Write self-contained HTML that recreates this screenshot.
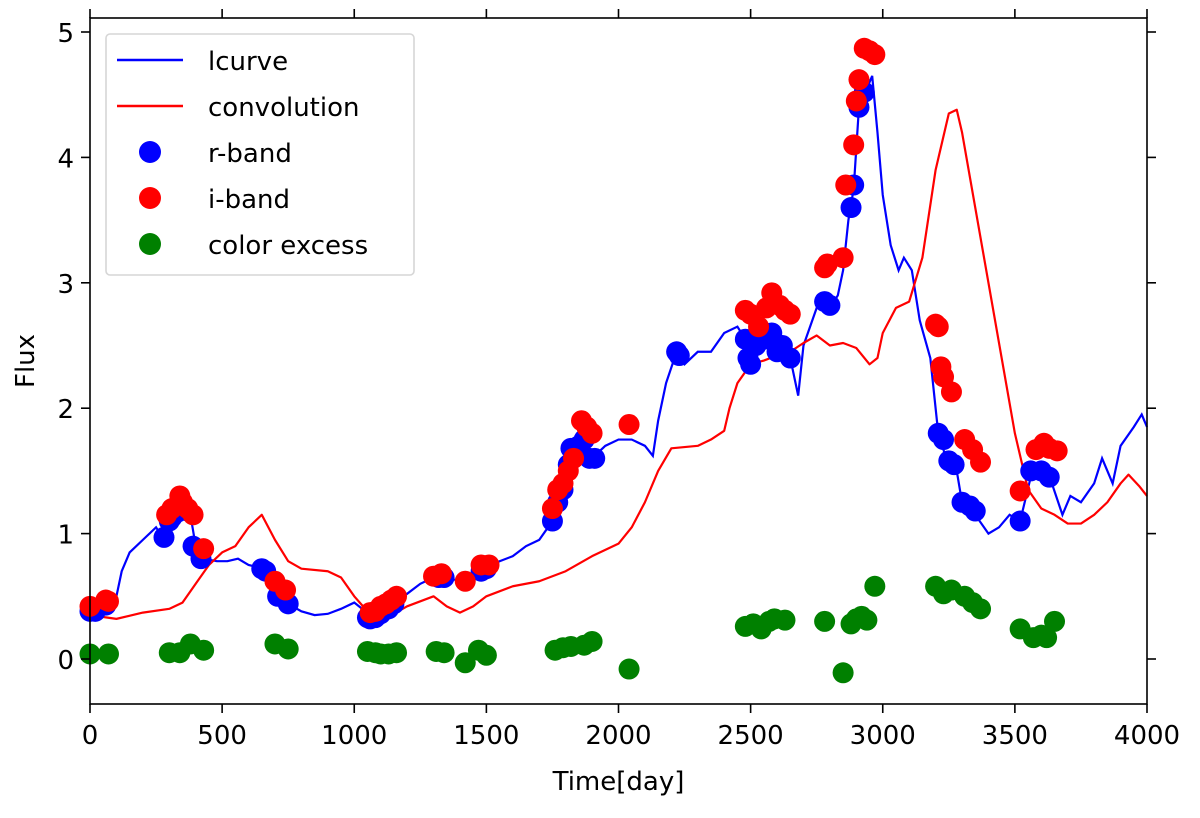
<!DOCTYPE html>
<html><head><meta charset="utf-8"><style>
html,body{margin:0;padding:0;background:#fff;}
svg text{font-family:"DejaVu Sans","Liberation Sans",sans-serif;fill:#000;}
</style></head><body>
<svg id="chart" width="1200" height="813" xmlns="http://www.w3.org/2000/svg">
<g id="plot"></g>
</svg>
<script>
const xTicks=[0,500,1000,1500,2000,2500,3000,3500,4000];
const yTicks=[0,1,2,3,4,5];
const lcurveT=[0,50,100,120,150,200,250,280,300,350,380,400,430,480,520,560,600,640,670,700,750,800,850,900,950,1000,1030,1060,1100,1150,1200,1250,1300,1350,1400,1450,1500,1550,1600,1650,1700,1750,1800,1830,1860,1900,1950,2000,2050,2100,2130,2150,2180,2220,2250,2300,2350,2400,2450,2480,2500,2550,2600,2650,2680,2700,2750,2800,2830,2850,2870,2890,2910,2940,2960,2980,3000,3030,3060,3080,3110,3140,3180,3210,3240,3280,3300,3350,3400,3440,3480,3520,3560,3600,3640,3680,3710,3750,3800,3830,3870,3900,3950,3980,4000];
const lcurveF=[0.35,0.42,0.5,0.7,0.85,0.95,1.05,0.95,1.1,1.2,1.15,0.9,0.8,0.78,0.78,0.8,0.75,0.73,0.72,0.55,0.44,0.38,0.35,0.36,0.4,0.45,0.4,0.33,0.35,0.45,0.52,0.6,0.65,0.65,0.62,0.68,0.72,0.78,0.82,0.9,0.95,1.1,1.4,1.7,1.72,1.6,1.7,1.75,1.75,1.7,1.62,1.9,2.2,2.45,2.35,2.45,2.45,2.6,2.65,2.55,2.4,2.6,2.45,2.4,2.1,2.5,2.8,2.8,2.9,3.1,3.5,3.75,4.4,4.55,4.65,4.2,3.7,3.3,3.1,3.2,3.1,2.7,2.4,1.8,1.6,1.5,1.25,1.15,1.0,1.05,1.15,1.1,1.45,1.5,1.4,1.15,1.3,1.25,1.4,1.6,1.4,1.7,1.85,1.95,1.85];
const convT=[0,100,200,300,350,400,450,500,550,600,650,700,750,800,900,950,1000,1050,1100,1150,1200,1300,1350,1400,1450,1500,1600,1700,1800,1900,2000,2050,2100,2150,2200,2300,2350,2400,2420,2450,2500,2550,2600,2650,2700,2750,2800,2850,2900,2950,2980,3000,3050,3100,3150,3200,3250,3280,3300,3350,3400,3450,3500,3550,3600,3650,3700,3750,3800,3850,3900,3930,3970,4000];
const convF=[0.35,0.32,0.37,0.4,0.45,0.6,0.75,0.85,0.9,1.05,1.15,0.95,0.78,0.72,0.7,0.65,0.5,0.38,0.33,0.36,0.42,0.5,0.42,0.37,0.42,0.5,0.58,0.62,0.7,0.82,0.92,1.05,1.25,1.5,1.68,1.7,1.75,1.82,2.0,2.2,2.35,2.38,2.42,2.45,2.52,2.58,2.5,2.52,2.48,2.35,2.4,2.6,2.8,2.85,3.2,3.9,4.35,4.38,4.2,3.6,3.0,2.4,1.8,1.35,1.2,1.15,1.08,1.08,1.15,1.25,1.4,1.47,1.38,1.3];
const rT=[0,20,60,280,300,310,330,350,370,390,420,650,665,710,750,1050,1060,1080,1100,1130,1150,1320,1340,1480,1500,1750,1770,1790,1810,1820,1850,1870,1890,1910,2220,2230,2480,2490,2500,2520,2550,2580,2600,2620,2650,2780,2800,2880,2890,2910,2930,3210,3230,3250,3270,3300,3330,3350,3520,3560,3600,3630];
const rF=[0.38,0.38,0.43,0.97,1.1,1.13,1.17,1.2,1.18,0.9,0.8,0.72,0.7,0.5,0.44,0.33,0.32,0.33,0.36,0.4,0.44,0.65,0.65,0.7,0.72,1.1,1.25,1.35,1.55,1.68,1.7,1.75,1.6,1.6,2.45,2.42,2.55,2.4,2.35,2.5,2.55,2.6,2.45,2.5,2.4,2.85,2.82,3.6,3.78,4.4,4.52,1.8,1.75,1.58,1.55,1.25,1.22,1.18,1.1,1.5,1.5,1.45];
const iT=[0,60,70,290,310,340,350,370,390,430,700,740,1060,1080,1100,1120,1140,1160,1300,1330,1420,1480,1510,1750,1770,1790,1810,1830,1860,1880,1900,2040,2480,2500,2530,2560,2580,2610,2630,2650,2780,2790,2850,2860,2890,2900,2910,2930,2950,2970,3200,3210,3220,3230,3260,3310,3340,3370,3520,3580,3610,3630,3660];
const iF=[0.42,0.47,0.46,1.15,1.2,1.3,1.25,1.2,1.15,0.88,0.62,0.55,0.37,0.38,0.42,0.44,0.47,0.5,0.66,0.68,0.62,0.75,0.75,1.2,1.35,1.4,1.5,1.6,1.9,1.85,1.8,1.87,2.78,2.75,2.65,2.8,2.92,2.82,2.78,2.75,3.12,3.15,3.2,3.78,4.1,4.45,4.62,4.87,4.85,4.82,2.67,2.65,2.33,2.25,2.13,1.75,1.67,1.57,1.34,1.67,1.72,1.68,1.66];
const cT=[0,70,300,340,380,430,700,750,1050,1080,1100,1130,1160,1310,1340,1420,1470,1500,1760,1790,1820,1870,1900,2040,2480,2510,2540,2570,2590,2630,2780,2850,2880,2900,2920,2940,2970,3200,3230,3260,3310,3340,3370,3520,3570,3600,3620,3650];
const cF=[0.04,0.04,0.05,0.05,0.12,0.07,0.12,0.08,0.06,0.05,0.04,0.04,0.05,0.06,0.05,-0.03,0.07,0.03,0.07,0.09,0.1,0.11,0.14,-0.08,0.26,0.28,0.24,0.3,0.32,0.31,0.3,-0.11,0.28,0.32,0.34,0.31,0.58,0.58,0.52,0.55,0.5,0.45,0.4,0.24,0.17,0.19,0.17,0.3];

const L=90,R=1147,T=18,B=704,Y0=659,YS=125.4;
const xs=t=>L+(t/4000)*(R-L);
const ys=v=>Y0-v*YS;
const NS="http://www.w3.org/2000/svg";
const g=document.getElementById('plot');
function mk(tag,attrs,parent){const e=document.createElementNS(NS,tag);for(const k in attrs)e.setAttribute(k,attrs[k]);(parent||g).appendChild(e);return e;}

const lineG=mk('g',{});


const p1=mk('polyline',{points:lcurveT.map((t,i)=>xs(t)+','+ys(lcurveF[i])).join(' '),fill:'none',stroke:'#0000ff','stroke-width':2.2},lineG);


const p2=mk('polyline',{points:convT.map((t,i)=>xs(t)+','+ys(convF[i])).join(' '),fill:'none',stroke:'#ff0000','stroke-width':2.2,'stroke-linejoin':'round'},lineG);



function dots(T_,F_,col,name){
  const gg=mk('g',{fill:col});
  
  
  T_.forEach((t,i)=>{const c=mk('circle',{cx:xs(t),cy:ys(F_[i]),r:10.5},gg);
    
    });
}
dots(rT,rF,'#0000ff','r-band');
dots(iT,iF,'#ff0000','i-band');
dots(cT,cF,'#008000','color-excess');

const frame=mk('rect',{x:L,y:T,width:R-L,height:B-T,fill:'none',stroke:'#000','stroke-width':1.6});



xTicks.forEach(t=>{
  const x=xs(t);
  const a=mk('line',{x1:x,x2:x,y1:B,y2:B+9,stroke:'#000','stroke-width':1.6});
  
  
  const b=mk('line',{x1:x,x2:x,y1:T,y2:T-9,stroke:'#000','stroke-width':1.6});
  
  
  const tx=mk('text',{x:x,y:B+40,'text-anchor':'middle','font-size':26});
  tx.textContent=t;
  
  
});
yTicks.forEach(v=>{
  const y=ys(v);
  const a=mk('line',{x1:L,x2:L-9,y1:y,y2:y,stroke:'#000','stroke-width':1.6});
  
  
  const b=mk('line',{x1:R,x2:R+9,y1:y,y2:y,stroke:'#000','stroke-width':1.6});
  
  
  const tx=mk('text',{x:L-16,y:y+10,'text-anchor':'end','font-size':26});
  tx.textContent=v;
  
  
});
const xl=mk('text',{x:(L+R)/2,y:790,'text-anchor':'middle','font-size':26});
xl.textContent='Time[day]';


const yl=mk('text',{x:0,y:0,'text-anchor':'middle','font-size':26,transform:'translate(34,361) rotate(-90)'});
yl.textContent='Flux';



const lg=mk('g',{});


mk('rect',{x:106,y:34,width:308,height:241,rx:4,fill:'#fff','fill-opacity':0.85,stroke:'#d6d6d6','stroke-width':1.6},lg);
const items=[['lcurve','line','#0000ff'],['convolution','line','#ff0000'],['r-band','dot','#0000ff'],['i-band','dot','#ff0000'],['color excess','dot','#008000']];
items.forEach((it,i)=>{
  const y=60+i*46;
  const e=mk('g',{},lg);
  
  
  if(it[1]==='line') mk('line',{x1:117,x2:183,y1:y,y2:y,stroke:it[2],'stroke-width':2.5},e);
  else mk('circle',{cx:150,cy:y,r:11,fill:it[2]},e);
  const t=mk('text',{x:208,y:y+10,'font-size':26},e);
  t.textContent=it[0];
});
</script>
</body></html>
